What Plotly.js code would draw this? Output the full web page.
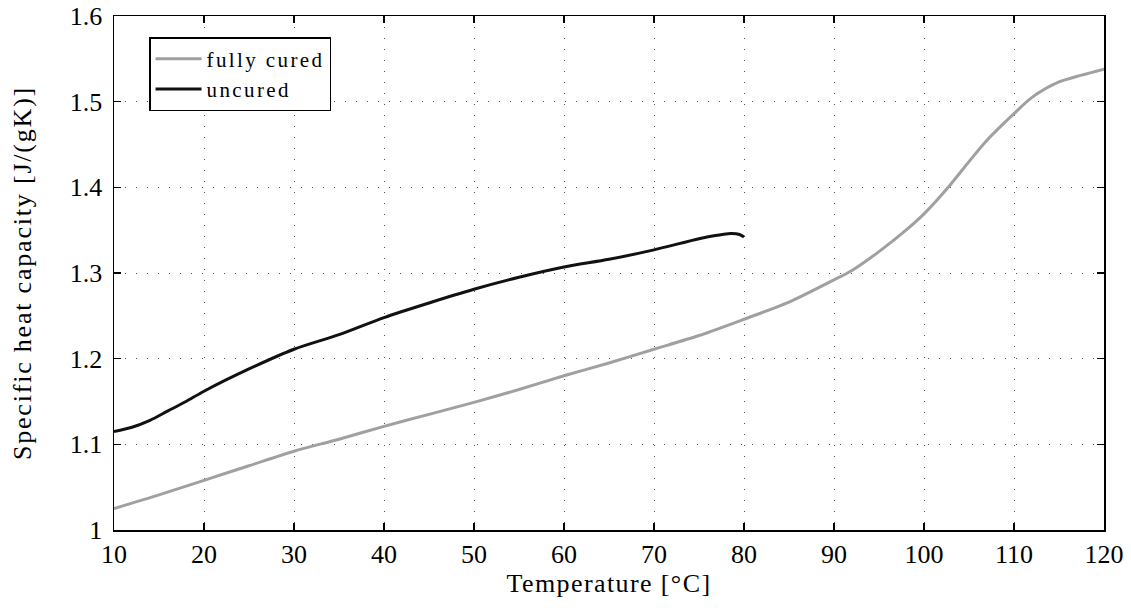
<!DOCTYPE html>
<html><head><meta charset="utf-8">
<script src="https://cdn.plot.ly/plotly-3.0.1.min.js"></script>
<style>
body{margin:0;background:#fff}#c{width:1131px;height:611px}
.xtitle{letter-spacing:1.4px}
.ytitle{letter-spacing:1.8px}
.legendtext{letter-spacing:2.4px}
</style>
</head><body><div id="c"></div>
<script>
const curedT = [10, 15, 20, 25, 30, 35, 40, 45, 50, 55, 60, 65, 70, 75, 80, 85, 90, 92, 95, 98, 100, 103, 105, 107, 110, 112, 115, 117.5, 120];
const curedCp = [1.025, 1.041, 1.058, 1.075, 1.092, 1.106, 1.121, 1.135, 1.149, 1.164, 1.180, 1.195, 1.211, 1.227, 1.246, 1.266, 1.292, 1.303, 1.325, 1.350, 1.369, 1.404, 1.430, 1.455, 1.486, 1.505, 1.523, 1.531, 1.538];
const uncuredT = [10, 12, 14, 16, 18, 20, 25, 30, 35, 40, 45, 50, 55, 60, 65, 70, 75, 77, 78.5, 79.5, 80];
const uncuredCp = [1.115, 1.12, 1.128, 1.139, 1.150, 1.162, 1.188, 1.211, 1.228, 1.248, 1.265, 1.281, 1.295, 1.307, 1.316, 1.327, 1.340, 1.344, 1.346, 1.345, 1.342];
const xTicks = [10, 20, 30, 40, 50, 60, 70, 80, 90, 100, 110, 120];
const yTicks = [1, 1.1, 1.2, 1.3, 1.4, 1.5, 1.6];
const yTickText = ['1', '1.1', '1.2', '1.3', '1.4', '1.5', '1.6'];

const font = {family: 'Liberation Serif, serif', color: '#000'};
const traces = [
  {x: curedT, y: curedCp, name: 'fully cured', mode: 'lines', line: {color: '#a0a0a0', width: 3, shape: 'spline', smoothing: 0.8}},
  {x: uncuredT, y: uncuredCp, name: 'uncured', mode: 'lines', line: {color: '#111111', width: 3, shape: 'spline', smoothing: 0.8}}
];
const axisCommon = {
  showline: true, linecolor: '#000', linewidth: 1.5, mirror: 'ticks',
  ticks: 'inside', ticklen: 7, tickwidth: 1.2, tickcolor: '#000',
  showgrid: true, gridcolor: '#555', gridwidth: 1, griddash: '1px,10px',
  zeroline: false, tickfont: Object.assign({size: 26}, font), automargin: false
};
const layout = {
  width: 1131, height: 611,
  margin: {l: 114, r: 27, t: 16, b: 81},
  paper_bgcolor: '#fff', plot_bgcolor: '#fff',
  font: font,
  showlegend: true,
  legend: {x: 0.0354, y: 0.959, xanchor: 'left', yanchor: 'top', bgcolor: '#fff', bordercolor: '#000', borderwidth: 1.5,
           font: Object.assign({size: 21}, font), tracegroupgap: 0, itemwidth: 46, valign: 'middle'},
  xaxis: Object.assign({}, axisCommon, {range: [10, 120], tickvals: xTicks, ticktext: xTicks.map(String), ticklabelstandoff: 0,
          title: {text: 'Temperature [°C]', font: Object.assign({size: 26}, font), standoff: 4}}),
  yaxis: Object.assign({}, axisCommon, {range: [1, 1.6], tickvals: yTicks, ticktext: yTickText, ticklabelstandoff: 5,
          title: {text: 'Specific heat capacity [J/(gK)]', font: Object.assign({size: 26}, font), standoff: 30}})
};
Plotly.newPlot('c', traces, layout, {staticPlot: true});
</script></body></html>
